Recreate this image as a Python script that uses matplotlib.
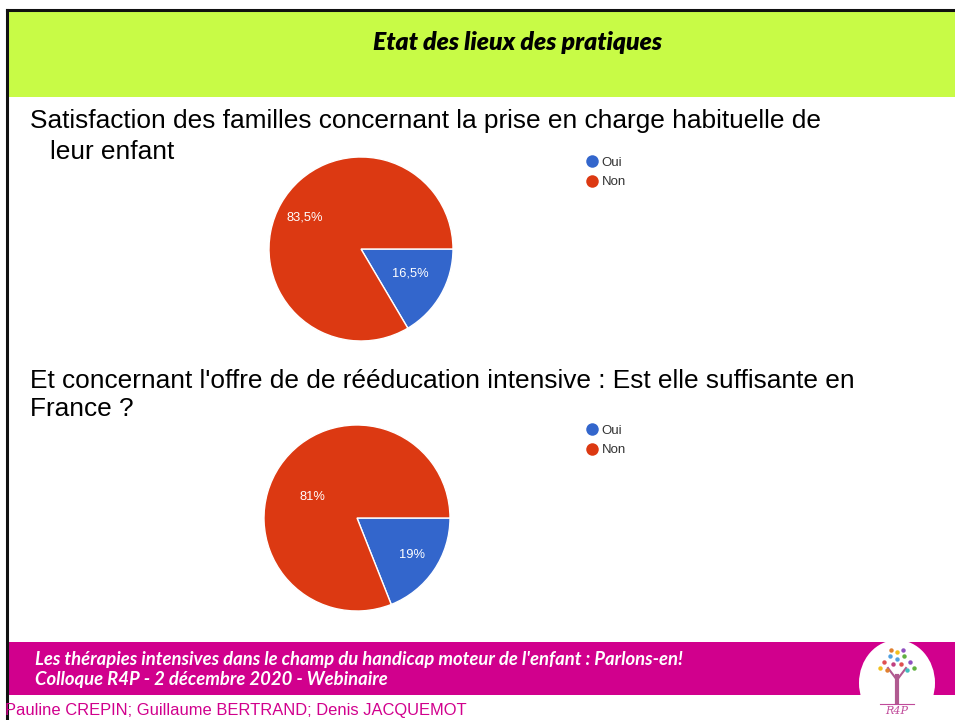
import math
import itertools
import matplotlib
matplotlib.use("Agg")
import matplotlib.pyplot as plt
from matplotlib.patches import Rectangle, Ellipse
from matplotlib.lines import Line2D

# ---- data ----
categories = ["Oui", "Non"]
colors = ["#3366cc", "#dc3912"]
q1_values = [16.5, 83.5]
q2_values = [19, 81]
title = "Etat des lieux des pratiques"
q1_text = ["Satisfaction des familles concernant la prise en charge habituelle de", "leur enfant"]
q2_text = ["Et concernant l'offre de de rééducation intensive : Est elle suffisante en", "France ?"]
footer_lines = ["Les thérapies intensives dans le champ du handicap moteur de l'enfant : Parlons-en!",
                "Colloque R4P - 2 décembre 2020 - Webinaire"]
authors = "Pauline CREPIN; Guillaume BERTRAND; Denis JACQUEMOT"

W, H = 955, 720
fig = plt.figure(figsize=(W / 100, H / 100), dpi=100)
bg = fig.add_axes([0, 0, 1, 1])
bg.set_xlim(0, W)
bg.set_ylim(H, 0)
bg.axis("off")

GREEN = "#c8fb46"
MAGENTA = "#d1008d"

# header band
bg.add_patch(Rectangle((8, 10), W - 8, 87, facecolor=GREEN, edgecolor="none"))
bg.plot([7, W], [10, 10], color="#111111", lw=2.2)
bg.plot([7, 7], [10, H], color="#111111", lw=2.2)
bg.text(517, 42, title, ha="center", va="center", fontsize=17.8,
        family="Lato", weight="heavy", style="italic", color="black")

# question texts
tkw = dict(family="Liberation Sans", fontsize=18.9, color="black", va="center", ha="left")
bg.text(30, 121, q1_text[0], **tkw)
bg.text(50, 152, q1_text[1], **tkw)
bg.text(30, 381, q2_text[0], **tkw)
bg.text(30, 409, q2_text[1], **tkw)

# footer band
bg.add_patch(Rectangle((8, 642), W - 8, 53, facecolor=MAGENTA, edgecolor="none"))
fkw = dict(family="Lato", fontsize=13.3, weight="bold", style="italic", color="white", va="center", ha="left")
bg.text(35, 660, footer_lines[0], **fkw)
bg.text(35, 680, footer_lines[1], **fkw)
bg.text(5, 710, authors, family="Liberation Sans", fontsize=11.9, color=MAGENTA, va="center", ha="left")

# logo (approximation)
bg.add_patch(Ellipse((897, 683), 76, 86, facecolor="white", edgecolor="none"))
bg.plot([897, 897], [702, 676], color="#b05a90", lw=3)
bg.plot([897, 888], [680, 668], color="#b05a90", lw=1.5)
bg.plot([897, 906], [680, 668], color="#b05a90", lw=1.5)
dot_cols = ["#e05050", "#50a0e0", "#f0c020", "#60b040", "#9050c0", "#e08030", "#40c0c0", "#c04080"]
pts = [(884, 662), (890, 656), (897, 652), (904, 656), (910, 662), (887, 670), (907, 670),
       (893, 664), (901, 664), (897, 659), (880, 668), (914, 668), (903, 650), (891, 650)]
for (x, y), c in zip(pts, itertools.cycle(dot_cols)):
    bg.plot(x, y, "o", ms=3.2, color=c, mec="none")
bg.text(897, 711, "R4P", ha="center", va="center", fontsize=8, color="#c04a9a",
        style="italic", family="DejaVu Serif")
bg.plot([880, 914], [704, 704], color="#c04a9a", lw=0.8)


def draw_pie(cx, cy, r, values, label_dists, legend_xy):
    ax = fig.add_axes([(cx - r) / W, 1 - (cy + r) / H, 2 * r / W, 2 * r / H])
    wedges, _, autotexts = ax.pie(
        values, colors=colors, startangle=0, counterclock=False,
        wedgeprops=dict(edgecolor="white", linewidth=1.0),
        autopct=lambda p: (f"{p:.1f}".replace(".", ",").replace(",0", "") + "%"),
        pctdistance=0.65,
        textprops=dict(color="white", fontsize=9.3, family="Liberation Sans"))
    for w, t, (d, da) in zip(wedges, autotexts, label_dists):
        ang = math.radians((w.theta1 + w.theta2) / 2 + da)
        t.set_position((d * math.cos(ang), d * math.sin(ang)))
    ax.set_xlim(-1, 1)
    ax.set_ylim(-1, 1)
    ax.set_aspect("equal")
    handles = [Line2D([], [], marker="o", ls="none", ms=9, color=c, mec="none") for c in colors]
    fig.legend(handles, categories, loc="upper left",
               bbox_to_anchor=(legend_xy[0] / W, 1 - legend_xy[1] / H),
               frameon=False, handletextpad=0.15, labelspacing=0.55, borderpad=0,
               handlelength=1.2, prop=dict(family="Liberation Sans", size=9.5),
               labelcolor="#333333")
    return ax


draw_pie(361, 249, 92, q1_values, [(0.6, 3), (0.7, 0)], (577, 150))
draw_pie(357, 518, 93, q2_values, [(0.71, 0), (0.53, 9)], (577, 418))

fig.savefig("out.png", dpi=100)
